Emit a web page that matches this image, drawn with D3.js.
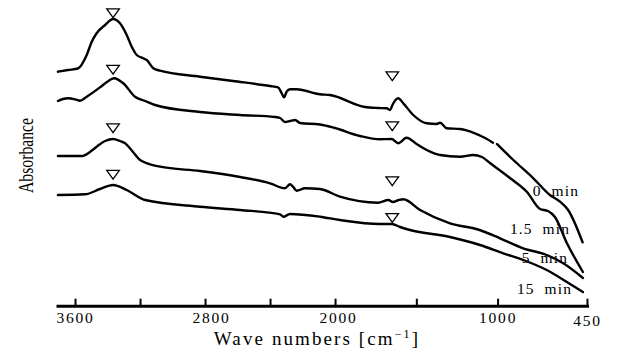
<!DOCTYPE html>
<html><head><meta charset="utf-8">
<script src="https://cdn.jsdelivr.net/npm/d3@7"></script>
<style>
html,body{margin:0;padding:0;background:#fff;}
svg{display:block;}
</style></head>
<body>
<script>
// ---- data ----
const seriesNames = ["0  min", "1.5  min", "5  min", "15  min"];
// wavenumbers (cm^-1) and absorbance (arbitrary, offset) for each spectrum; null = gap
const wn0  = [3705,3643,3582,3528,3497,3467,3415,3366,3323,3282,3251,3220,3180,3159,3118,3077,2831,2628,2400,2351,2328,2314,2298,2277,2236,2093,2031,1816,1736,1682,1662,1644,1611,1580,1519,1436,1375,1354,1313,1231,1139,1077,1028,null,1004,903,780,678,616,566,477];
const abs0 = [2.333,2.35,2.365,2.50,2.633,2.717,2.80,2.86,2.817,2.70,2.583,2.50,2.467,2.45,2.367,2.343,2.283,2.24,2.19,2.177,2.117,2.077,2.133,2.157,2.157,2.107,2.10,1.98,1.97,1.967,1.95,2.01,2.067,2.017,1.90,1.817,1.81,1.823,1.767,1.76,1.717,1.67,1.623,null,1.61,1.45,1.267,1.10,1.033,0.95,0.627];
const wn1  = [3705,3674,3643,3600,3569,3528,3446,3403,3360,3303,3231,3169,3108,2831,2585,2370,2338,2308,2277,2246,2216,2093,2000,1847,1724,1652,1611,1560,1498,1436,1354,1231,1151,1096,1047,924,819,739,690,647,574,475];
const abs1 = [2.04,2.06,2.067,2.057,2.043,2.083,2.177,2.23,2.267,2.217,2.083,2.04,2.00,1.93,1.90,1.88,1.87,1.83,1.84,1.85,1.82,1.805,1.77,1.69,1.657,1.66,1.617,1.673,1.61,1.55,1.50,1.483,1.50,1.48,1.42,1.27,1.13,0.96,0.94,0.88,0.62,0.33];
const wn2  = [3705,3631,3557,3508,3467,3415,3366,3323,3292,3243,3200,3077,2831,2585,2400,2308,2277,2259,2236,2185,2093,1970,1736,1672,1644,1607,1580,1477,1293,1121,985,842,698,596,475];
const abs2 = [1.49,1.49,1.49,1.53,1.583,1.64,1.66,1.64,1.617,1.53,1.45,1.383,1.34,1.28,1.217,1.167,1.207,1.183,1.143,1.167,1.16,1.083,1.023,1.05,1.03,1.05,1.057,0.95,0.817,0.755,0.667,0.567,0.50,0.417,0.27];
const wn3  = [3705,3538,3446,3366,3282,3169,2831,2585,2338,2318,2277,2093,1970,1724,1650,1600,1539,1293,1108,965,842,698,576,475];
const abs3 = [1.10,1.107,1.16,1.20,1.15,1.05,0.983,0.95,0.907,0.883,0.91,0.883,0.85,0.81,0.81,0.78,0.75,0.68,0.60,0.517,0.45,0.35,0.233,0.13];
// peak markers (open triangles)
const markerWn = [3366, 1648];
const markerAbsLeft  = [2.917, 2.352, 1.768, 1.302];
const markerAbsRight = [2.287, 1.787, 1.237, 0.870];
// axis ticks
const tickValues = [3600, 3200, 2800, 2400, 2000, 1500, 1000, 450];
const tickLabels = ["3600", "", "2800", "", "2000", "", "1000", "450"];

const wns = [wn0, wn1, wn2, wn3];
const abss = [abs0, abs1, abs2, abs3];

// ---- chart ----
const W = 621, H = 352;
const svg = d3.select("body").append("svg").attr("width", W).attr("height", H);

const x = d3.scaleLinear().domain([3717, 440]).range([56, 588.6]);
const y = d3.scaleLinear().domain([0, 3]).range([305, 5]);

const line = d3.line()
  .defined(d => d[0] != null)
  .x(d => x(d[0])).y(d => y(d[1]))
  .curve(d3.curveMonotoneX);

wns.forEach((w, i) => {
  const pts = w.map((v, j) => [v, abss[i][j]]);
  svg.append("path").datum(pts)
    .attr("d", line)
    .attr("fill", "none").attr("stroke", "#000")
    .attr("stroke-width", 2.4).attr("stroke-linejoin", "round").attr("stroke-linecap", "round");
});

// markers
const tri = "M-6.3,-4.4L6.3,-4.4L0,4.4Z";
[markerAbsLeft, markerAbsRight].forEach((arr, k) => {
  arr.forEach(a => {
    svg.append("path").attr("d", tri)
      .attr("transform", `translate(${x(markerWn[k])},${y(a)})`)
      .attr("fill", "#fff").attr("stroke", "#000").attr("stroke-width", 1.3);
  });
});

// series labels
const labelPos = [[579, 190], [570, 228], [568, 257], [572, 288.5]];
seriesNames.forEach((s, i) => {
  svg.append("text").text(s)
    .attr("x", labelPos[i][0]).attr("y", labelPos[i][1])
    .attr("text-anchor", "end").attr("dominant-baseline", "central")
    .style("white-space", "pre").attr("xml:space", "preserve")
    .attr("font-family", "Liberation Serif").attr("font-size", 15.5)
    .attr("letter-spacing", "1.1px").attr("fill", "#000");
});

// x axis
const labelShift = {2800: 6, 2000: 3};
const axis = d3.axisBottom(x).tickValues(tickValues)
  .tickFormat((d, i) => tickLabels[i])
  .tickSizeInner(-7).tickSizeOuter(0).tickPadding(6);
const gx = svg.append("g").attr("transform", "translate(0,305.7)").call(axis);
gx.select(".domain").attr("stroke-width", 3).attr("stroke", "#000");
gx.selectAll(".tick line").attr("stroke-width", 2).attr("stroke", "#000");
gx.selectAll(".tick text").attr("font-family", "Liberation Serif").attr("font-size", 15.5)
  .attr("letter-spacing", "1.8px").attr("fill", "#000")
  .attr("dx", d => labelShift[d] || 0);
gx.selectAll(".tick text").filter(d => d === 450).attr("dy", "0.9em");

// x title
const t = svg.append("text").attr("x", 317).attr("y", 345)
  .attr("text-anchor", "middle")
  .attr("font-family", "Liberation Serif").attr("font-size", 19)
  .attr("letter-spacing", "2.1px").attr("fill", "#000");
t.append("tspan").text("Wave numbers [cm");
t.append("tspan").text("\u22121").attr("font-size", 12).attr("dy", -7);
t.append("tspan").text("]").attr("dy", 7);

// y title
svg.append("text").text("Absorbance")
  .attr("transform", "translate(33,155.5) rotate(-90)")
  .attr("text-anchor", "middle")
  .attr("font-family", "Liberation Serif").attr("font-size", 21)
  .attr("textLength", 75).attr("lengthAdjust", "spacingAndGlyphs")
  .attr("fill", "#000");
</script>
</body></html>
